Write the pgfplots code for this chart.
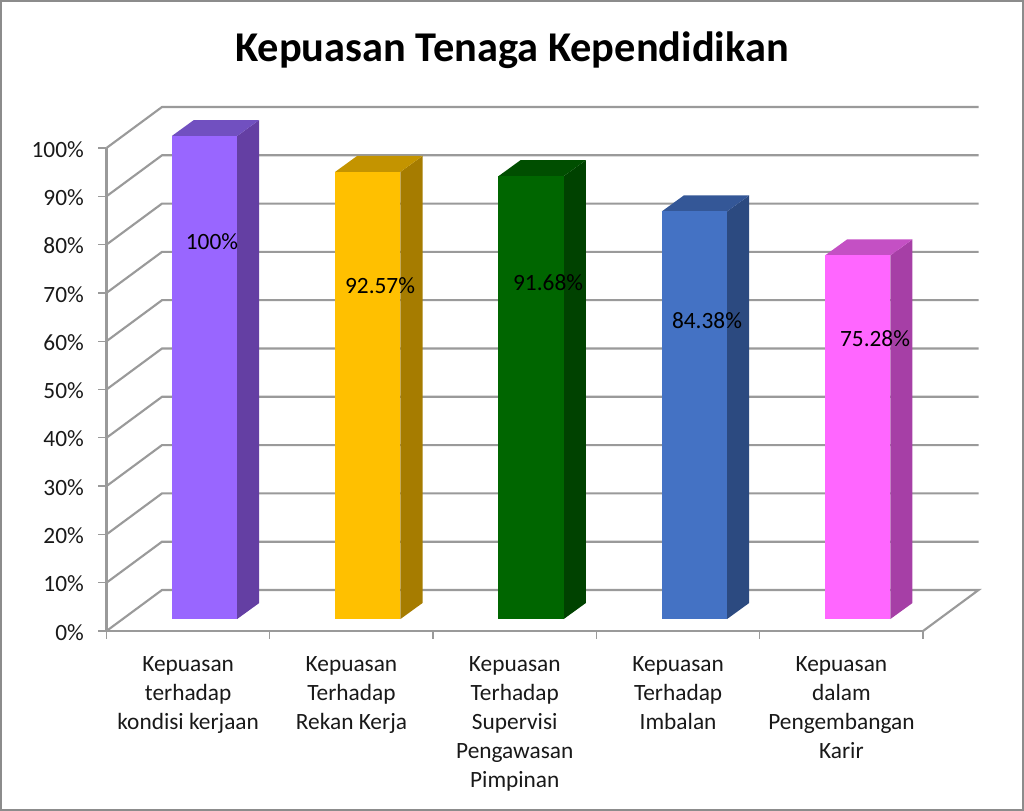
\documentclass[border=0pt]{standalone}
\usepackage{fontspec}
\setmainfont{Carlito}
\usepackage{pgfplots}
\pgfplotsset{compat=1.18}
\definecolor{gridgray}{HTML}{9A9A9A}
\definecolor{framegray}{HTML}{8C8C8C}
\definecolor{af}{HTML}{9966FF}\definecolor{as}{HTML}{643FA3}\definecolor{at}{HTML}{7150C0}
\definecolor{bf}{HTML}{FFC000}\definecolor{bs}{HTML}{A67C00}\definecolor{bt}{HTML}{C49400}
\definecolor{cf}{HTML}{006600}\definecolor{cs}{HTML}{004200}\definecolor{ct}{HTML}{004E00}
\definecolor{df}{HTML}{4472C4}\definecolor{ds}{HTML}{2C4A80}\definecolor{dt}{HTML}{345797}
\definecolor{ef}{HTML}{FF66FF}\definecolor{es}{HTML}{A63FA6}\definecolor{et}{HTML}{C450C4}
% one 3-D bar: index, value, front, side, top
\newcommand{\tdbar}[5]{%
  \pgfmathsetmacro{\xa}{#1+0.40}\pgfmathsetmacro{\xb}{#1+0.80}\pgfmathsetmacro{\xc}{#1+0.935}\pgfmathsetmacro{\xd}{#1+0.535}%
  \pgfmathsetmacro{\yt}{#2+2.48}\pgfmathsetmacro{\ytt}{#2+5.79}%
  \addplot[draw=none,fill=#4,forget plot] coordinates {(\xb,2.48)(\xc,5.79)(\xc,\ytt)(\xb,\yt)} -- cycle;
  \addplot[draw=none,fill=#5,forget plot] coordinates {(\xa,\yt)(\xb,\yt)(\xc,\ytt)(\xd,\ytt)} -- cycle;
  \addplot[draw=none,fill=#3,forget plot] coordinates {(\xa,2.48)(\xb,2.48)(\xb,\yt)(\xa,\yt)} -- cycle;
}
\newcommand{\gridl}[2]{\addplot[gridgray,line width=1.6pt,forget plot] coordinates {(0,#1)(0.34,#2)(5.34,#2)};}
\begin{document}
\begin{tikzpicture}
\begin{axis}[
  scale only axis,
  width=612.4pt,height=362.25pt,
  xmin=0,xmax=5,ymin=0,ymax=100,
  clip=false,
  axis x line=bottom,axis y line=left,
  axis line style={gridgray,line width=1.6pt,-},
  xtick={0.5,1.5,2.5,3.5,4.5},
  xticklabels={{Kepuasan\\terhadap\\kondisi kerjaan},{Kepuasan\\Terhadap\\Rekan Kerja},{Kepuasan\\Terhadap\\Supervisi\\Pengawasan\\Pimpinan},{Kepuasan\\Terhadap\\Imbalan},{Kepuasan\\dalam\\Pengembangan\\Karir}},
  minor xtick={0,1,2,3,4,5},
  ytick={0,10,20,30,40,50,60,70,80,90,100},
  yticklabels={0\%,10\%,20\%,30\%,40\%,50\%,60\%,70\%,80\%,90\%,100\%},
  tick align=outside,
  major tick length=6pt,minor tick length=6pt,
  x tick style={draw=none},
  minor x tick style={draw=gridgray,line width=1pt},
  y tick style={draw=gridgray,line width=1pt},
  xticklabel style={font=\fontsize{17.5}{21.75}\selectfont,align=center,anchor=north,yshift=-9.75pt,text=black!90},
  yticklabel style={font=\fontsize{17.5}{21}\selectfont,text=black!90,xshift=-7.5pt,yshift=-1pt},
  title={\bfseries Kepuasan Tenaga Kependidikan},
  title style={at={(axis cs:2.483,118.6)},anchor=center,font=\fontsize{31.8}{36}\selectfont},
]
\draw[framegray,line width=1.5pt] (axis cs:-0.646,130.43) rectangle (axis cs:5.612,-37.06);
% floor edge and walls
\addplot[gridgray,line width=1.6pt,forget plot] coordinates {(0,0)(0.34,8.49)(5.34,8.49)(5,0)};
\gridl{10}{18.49}\gridl{20}{28.49}\gridl{30}{38.49}\gridl{40}{48.49}\gridl{50}{58.49}
\gridl{60}{68.49}\gridl{70}{78.49}\gridl{80}{88.49}\gridl{90}{98.49}\gridl{100}{108.49}
\tdbar{0}{100}{af}{as}{at}
\tdbar{1}{92.57}{bf}{bs}{bt}
\tdbar{2}{91.68}{cf}{cs}{ct}
\tdbar{3}{84.38}{df}{ds}{dt}
\tdbar{4}{75.28}{ef}{es}{et}
\node[font=\fontsize{17.5}{21}\selectfont] at (axis cs:0.646,80.7) {100\%};
\node[font=\fontsize{17.5}{21}\selectfont] at (axis cs:1.675,71.4) {92.57\%};
\node[font=\fontsize{17.5}{21}\selectfont] at (axis cs:2.704,72.05) {91.68\%};
\node[font=\fontsize{17.5}{21}\selectfont] at (axis cs:3.677,64.2) {84.38\%};
\node[font=\fontsize{17.5}{21}\selectfont] at (axis cs:4.706,60.45) {75.28\%};
\end{axis}
\end{tikzpicture}
\end{document}
